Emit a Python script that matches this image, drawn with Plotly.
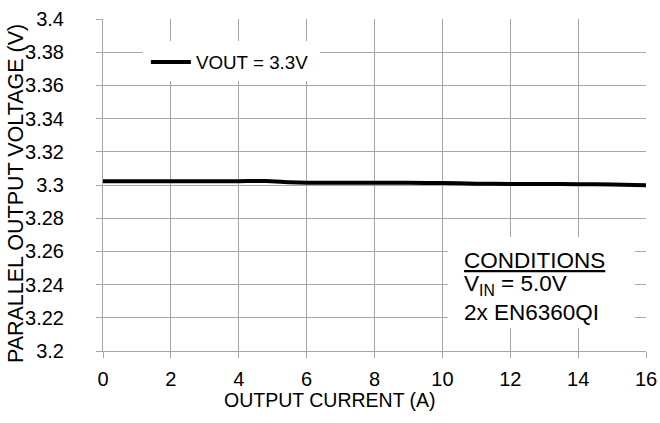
import plotly.graph_objects as go

current_a = [0, 1, 2, 3, 4, 4.8, 5.5, 6, 7, 8, 9, 10, 11, 12, 13, 14, 15, 16]
vout_v = [3.3023, 3.3023, 3.3023, 3.3023, 3.3023, 3.3024, 3.3016, 3.3013, 3.3013,
          3.3013, 3.3013, 3.3012, 3.3008, 3.3006, 3.3006, 3.3005, 3.3003, 3.2998]
series_name = "VOUT = 3.3V"
x_ticks = [0, 2, 4, 6, 8, 10, 12, 14, 16]
y_ticks = [3.2, 3.22, 3.24, 3.26, 3.28, 3.3, 3.32, 3.34, 3.36, 3.38, 3.4]
y_tick_labels = ["3.2", "3.22", "3.24", "3.26", "3.28", "3.3", "3.32", "3.34", "3.36", "3.38", "3.4"]
x_title = "OUTPUT CURRENT (A)"
y_title = "PARALLEL OUTPUT VOLTAGE (V)"
conditions_lines = ["<u>CONDITIONS</u>", "V<sub>IN</sub> = 5.0V", "2x EN6360QI"]

FONT = "Liberation Sans, Arial, sans-serif"
GRID = "#a6a6a6"

fig = go.Figure()
fig.add_trace(go.Scatter(x=current_a, y=vout_v, mode="lines", name=series_name,
                         line=dict(color="black", width=4, shape="spline", smoothing=0.6)))

cond_y = [0.2726, 0.2000, 0.1160]
annotations = [
    dict(xref="paper", yref="paper", x=0.662, y=yy, xanchor="left", yanchor="middle",
         align="left", showarrow=False, text=txt,
         font=dict(family=FONT, size=22.5, color="black"))
    for txt, yy in zip(conditions_lines, cond_y)
]
annotations += [
    dict(xref="paper", yref="paper", x=0.418, y=-0.148, xanchor="center", yanchor="middle",
         showarrow=False, text=x_title, font=dict(family=FONT, size=19.5, color="black")),
    dict(xref="paper", yref="paper", x=-0.160, y=0.473, xanchor="center", yanchor="middle",
         textangle=-90, showarrow=False, text=y_title,
         font=dict(family=FONT, size=21.5, color="black")),
]

fig.update_layout(
    width=660, height=423,
    margin=dict(l=103, r=14, t=19, b=72, autoexpand=False),
    paper_bgcolor="white", plot_bgcolor="white",
    font=dict(family=FONT, color="black", size=20),
    showlegend=True,
    legend=dict(x=0.079, y=0.870, xanchor="left", yanchor="middle", bgcolor="rgba(0,0,0,0)",
                borderwidth=0, font=dict(family=FONT, size=18.8, color="black"),
                itemwidth=40, tracegroupgap=0),
    shapes=[
        dict(type="rect", xref="paper", yref="paper", x0=0.0737, x1=0.3996, y0=0.813, y1=0.934,
             fillcolor="white", line=dict(width=0), layer="above"),
        dict(type="rect", xref="paper", yref="paper", x0=0.635, x1=0.980, y0=0.069, y1=0.343,
             fillcolor="white", line=dict(width=0), layer="above"),
    ],
    annotations=annotations,
)

fig.update_xaxes(range=[0, 16], tickvals=x_ticks, ticktext=[str(t) for t in x_ticks],
                 showgrid=True, gridcolor=GRID, gridwidth=1, automargin=False,
                 showline=True, linecolor=GRID, linewidth=1, mirror=False,
                 ticks="outside", ticklen=6, tickcolor=GRID, ticklabelstandoff=4,
                 tickfont=dict(family=FONT, size=20), zeroline=False)
fig.update_yaxes(range=[3.2, 3.4], tickvals=y_ticks, ticktext=y_tick_labels,
                 showgrid=True, gridcolor=GRID, gridwidth=1, automargin=False,
                 showline=True, linecolor=GRID, linewidth=1,
                 ticks="outside", ticklen=6, tickcolor=GRID, ticklabelstandoff=28,
                 tickfont=dict(family=FONT, size=20), zeroline=False)

fig.write_html("out.html", config={"displayModeBar": False},
               post_script="document.body.style.margin='0';document.body.style.overflow='hidden';")
